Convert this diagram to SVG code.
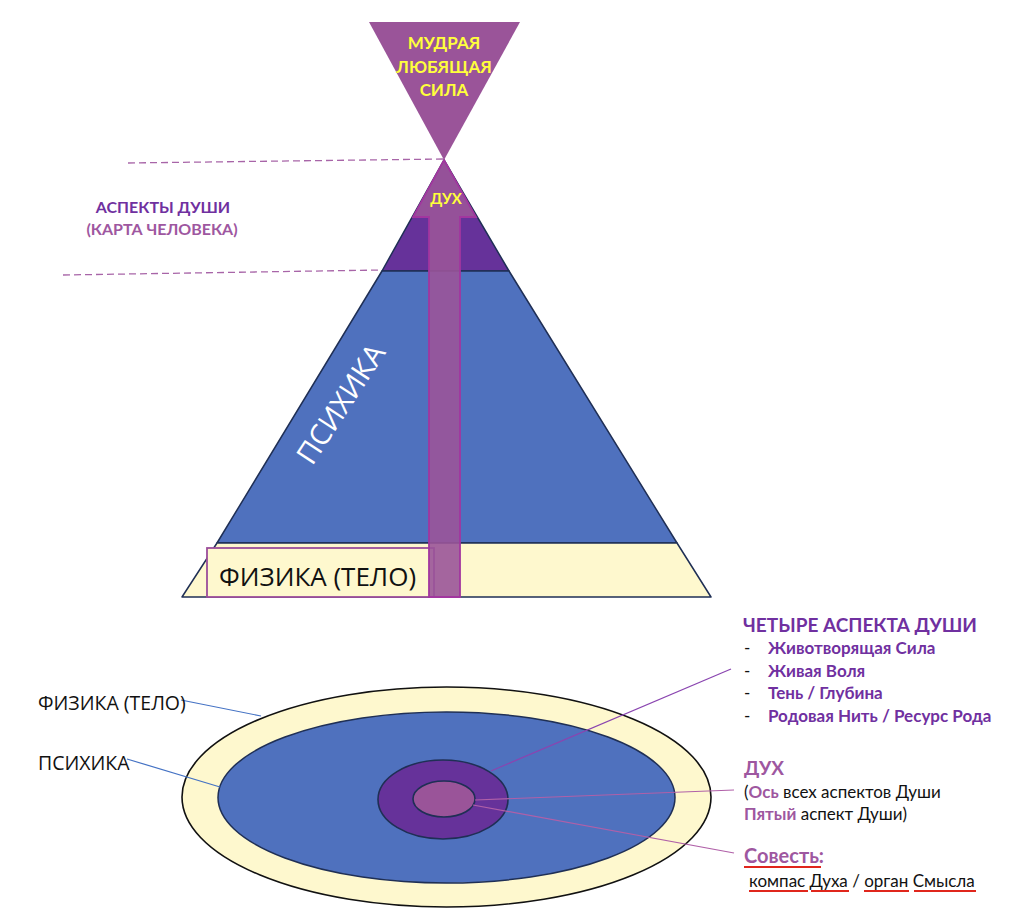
<svg xmlns="http://www.w3.org/2000/svg" width="1024" height="917" viewBox="0 0 1024 917">
<style>
.lato{font-family:Lato,"Noto Sans",sans-serif}
.os{font-family:"Open Sans","Noto Sans",sans-serif}
.yel{fill:#FFFF3C;font-weight:bold;text-anchor:middle}
.pur{fill:#7030A0;font-weight:bold}
.pink{fill:#9E57A0;font-weight:bold}
.blk{fill:#111}
.edge{stroke:#1F2F55;stroke-width:1.5;stroke-linejoin:round}
.dash{stroke:#A865A8;stroke-width:1.3;stroke-dasharray:7 4;fill:none}
.red{stroke:#E0261C;stroke-width:2}
</style>
<rect width="1024" height="917" fill="#fff"/>

<g id="top-triangle">
<polygon points="369,22 520,22 444,160" fill="#9A5499"/>
<text class="lato yel" font-size="17" x="444" y="49">МУДРАЯ</text>
<text class="lato yel" font-size="17" x="444" y="73">ЛЮБЯЩАЯ</text>
<text class="lato yel" font-size="17" x="444" y="96">СИЛА</text>
</g>

<g id="pyramid">
<polygon class="edge" points="444,160 509,271 382,271" fill="#66329A"/>
<polygon class="edge" points="382,271 509,271 677,543 217,543" fill="#4F71BE"/>
<polygon class="edge" points="217,543 677,543 711,597 182,597" fill="#FEF8CE"/>
<text class="os" font-size="29" fill="#fff" text-anchor="middle" transform="translate(341,404) rotate(-57)" y="10">ПСИХИКА</text>
</g>

<g id="physics-label">
<rect x="207" y="548" width="227" height="49" fill="#FEF8CE" stroke="#9B4D9B" stroke-width="1.8"/>
<text class="os blk" font-size="26" x="219" y="586">ФИЗИКА (ТЕЛО)</text>
</g>

<g id="spirit-arrow">
<polygon points="444,160 476,217 460,217 460,597 429,597 429,217 413,217" fill="#9A5499" fill-opacity="0.9" stroke="#A2369F" stroke-width="1.8" stroke-linejoin="miter"/>
<text class="lato yel" font-size="15" x="446" y="204">ДУХ</text>
</g>

<g id="soul-aspects-label">
<text class="lato pur" font-size="16" x="163" y="213" text-anchor="middle">АСПЕКТЫ ДУШИ</text>
<text class="lato pink" font-size="16" x="162" y="235" text-anchor="middle">(КАРТА ЧЕЛОВЕКА)</text>
</g>

<g id="ellipses">
<ellipse cx="446.5" cy="797" rx="264.5" ry="110" fill="#FEF8CE" stroke="#111" stroke-width="1.6"/>
<ellipse cx="446.5" cy="797.5" rx="228.5" ry="85.5" fill="#4F71BE" stroke="#1F2F55" stroke-width="1.5"/>
<ellipse cx="443" cy="799.5" rx="65" ry="39.5" fill="#66329A" stroke="#1F2F55" stroke-width="1.6"/>
<ellipse cx="444" cy="799" rx="31" ry="18" fill="#9A5499" stroke="#1F2F55" stroke-width="1.6"/>
</g>

<g id="connectors" fill="none">
<line class="dash" x1="128" y1="163" x2="444" y2="159"/>
<line class="dash" x1="63" y1="275" x2="382" y2="270"/>
<line x1="181" y1="700" x2="261" y2="716" stroke="#4472C4" stroke-width="1.2"/>
<line x1="127" y1="759" x2="220" y2="787" stroke="#4472C4" stroke-width="1.2"/>
<line x1="491" y1="771" x2="731" y2="669" stroke="#8A45B0" stroke-width="1.2"/>
<line x1="475" y1="800" x2="734" y2="790" stroke="#B060A8" stroke-width="1.2"/>
<line x1="473" y1="805" x2="734" y2="853" stroke="#B060A8" stroke-width="1.2"/>
</g>

<g id="left-labels">
<text class="os blk" font-size="19.5" x="38" y="710">ФИЗИКА (ТЕЛО)</text>
<text class="os blk" font-size="19.5" x="38" y="770">ПСИХИКА</text>
</g>

<g id="four-aspects">
<text class="lato pur" font-size="19" x="743" y="632">ЧЕТЫРЕ АСПЕКТА ДУШИ</text>
<g class="lato" font-size="17">
<text class="blk" x="744" y="654">-</text>
<text class="blk" x="744" y="677">-</text>
<text class="blk" x="744" y="699">-</text>
<text class="blk" x="744" y="722">-</text>
<text class="pur" x="768" y="654">Животворящая Сила</text>
<text class="pur" x="768" y="677">Живая Воля</text>
<text class="pur" x="768" y="699">Тень / Глубина</text>
<text class="pur" x="768" y="722">Родовая Нить / Ресурс Рода</text>
</g>
</g>

<g id="spirit-text" class="lato">
<text class="pink" font-size="19" x="744" y="775">ДУХ</text>
<text class="blk" font-size="17" x="744" y="798">(<tspan class="pink">Ось</tspan> всех аспектов Души</text>
<text class="blk" font-size="17" x="744" y="820"><tspan class="pink">Пятый</tspan> аспект Души)</text>
</g>

<g id="conscience-text" class="lato">
<text class="pink" font-size="20" x="744" y="863">Совесть:</text>
<line class="red" x1="744" y1="867" x2="821" y2="867"/>
<text class="blk" font-size="17" x="749" y="887">компас Духа / орган Смысла</text>
<line class="red" x1="749" y1="891" x2="808" y2="891"/>
<line class="red" x1="811" y1="891" x2="849" y2="891"/>
<line class="red" x1="864" y1="891" x2="909" y2="891"/>
<line class="red" x1="914" y1="891" x2="976" y2="891"/>
</g>
</svg>
